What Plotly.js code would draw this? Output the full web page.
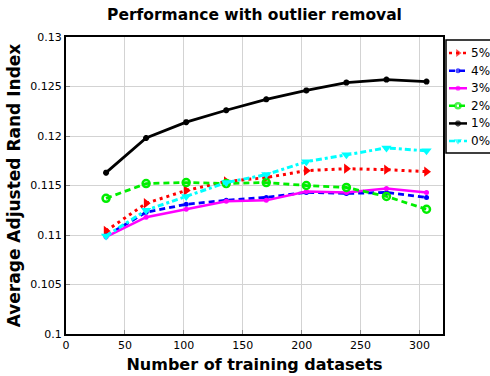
<!DOCTYPE html>
<html><head><meta charset="utf-8">
<script src="https://cdn.plot.ly/plotly-3.0.1.min.js"></script>
<style>html,body{margin:0;padding:0;background:#fff}#chart{width:490px;height:376px}</style>
</head><body><div id="chart"></div>
<script>
const trainingSets = [34, 68, 102, 136, 170, 204, 238, 272, 306];
const seriesNames = ["5%", "4%", "3%", "2%", "1%", "0%"];
const ari5 = [0.1104, 0.1132, 0.1145, 0.1154, 0.1158, 0.1165, 0.1167, 0.1166, 0.1164];
const ari4 = [0.1099, 0.1123, 0.1131, 0.1135, 0.1138, 0.1143, 0.1142, 0.1143, 0.1138];
const ari3 = [0.1098, 0.1118, 0.1126, 0.1134, 0.1135, 0.1144, 0.1143, 0.1147, 0.1143];
const ari2 = [0.1137, 0.1152, 0.1153, 0.1152, 0.1153, 0.1150, 0.1148, 0.1139, 0.1126];
const ari1 = [0.1163, 0.1198, 0.1214, 0.1226, 0.1237, 0.1246, 0.1254, 0.1257, 0.1255];
const ari0 = [0.1099, 0.1125, 0.1139, 0.1153, 0.1161, 0.1174, 0.1181, 0.1188, 0.1185];
const yTickVals = [0.1, 0.105, 0.11, 0.115, 0.12, 0.125, 0.13];
const yTickText = ["0.1", "0.105", "0.11", "0.115", "0.12", "0.125", "0.13"];
const xTickVals = [0, 50, 100, 150, 200, 250, 300];

const seriesValues = [ari5, ari4, ari3, ari2, ari1, ari0];
const styles = [
  {color: "#ff0000", dash: "3px,4px", symbol: "triangle-right", size: 9, mline: 0, lw: 3},
  {color: "#0000ff", dash: "6px,4px", symbol: "circle", size: 5, mline: 0, lw: 2.8},
  {color: "#ff00ff", dash: "solid", symbol: "circle", size: 5, mline: 0, lw: 2.5},
  {color: "#00ee00", dash: "6px,4px", symbol: "circle-open", size: 7, mline: 2.5, lw: 2.8},
  {color: "#000000", dash: "solid", symbol: "asterisk-open", size: 5, mline: 2, lw: 2.8},
  {color: "#00ffff", dash: "6px,3px,3px,3px", symbol: "triangle-down", size: 9, mline: 0, lw: 3}
];

const traces = [];
seriesValues.forEach((vals, i) => {
  const s = styles[i];
  traces.push({
    x: trainingSets, y: vals, type: "scatter", mode: "lines+markers",
    name: seriesNames[i], showlegend: false,
    line: {color: s.color, width: s.lw, dash: s.dash},
    marker: {color: s.color, symbol: s.symbol, size: s.size, line: {color: s.color, width: s.mline}},
    xaxis: "x", yaxis: "y"
  });
});
// custom legend drawn on a helper axis pair
const annotations = [];
seriesNames.forEach((nm, i) => {
  const s = styles[i];
  traces.push({
    x: [3, 12, 21], y: [i, i, i], type: "scatter", mode: "lines+markers",
    showlegend: false, hoverinfo: "skip", cliponaxis: false,
    line: {color: s.color, width: 2.5, dash: s.dash},
    marker: {color: s.color, symbol: s.symbol, size: [0, Math.max(s.size - 2, 5), 0], line: {color: s.color, width: s.mline}},
    xaxis: "x2", yaxis: "y2"
  });
  annotations.push({x: 23, y: i, xref: "x2", yref: "y2", text: nm, showarrow: false,
    xanchor: "left", yanchor: "middle", font: {family: "DejaVu Sans", size: 12, color: "#000"}});
});

const mainRight = 377 / 424;
const layout = {
  width: 490, height: 376,
  margin: {l: 66, r: 0, t: 37, b: 42},
  paper_bgcolor: "#fff", plot_bgcolor: "#fff",
  font: {family: "DejaVu Sans", size: 11, color: "#000"},
  title: {text: "<b>Performance with outlier removal</b>", x: 254.5 / 490, xref: "container", xanchor: "center",
    y: 1 - 15 / 376, yanchor: "middle", font: {family: "DejaVu Sans", size: 15.5, color: "#000"}},
  xaxis: {domain: [0, mainRight], range: [0, 320], tickvals: xTickVals, showgrid: true, gridcolor: "#d3d3d3", gridwidth: 1,
    zeroline: false, showline: true, linecolor: "#000", linewidth: 2, mirror: true,
    ticks: "inside", ticklen: 4, tickcolor: "#888",
    title: {text: "<b>Number of training datasets</b>", font: {family: "DejaVu Sans", size: 16, color: "#000"}, standoff: 8}},
  yaxis: {range: [0.1, 0.13], tickvals: yTickVals, ticktext: yTickText, showgrid: true, gridcolor: "#d3d3d3", gridwidth: 1,
    zeroline: false, showline: true, linecolor: "#000", linewidth: 2, mirror: true,
    ticks: "inside", ticklen: 4, tickcolor: "#888",
    title: {text: "<b>Average Adjusted Rand Index</b>", font: {family: "DejaVu Sans", size: 17, color: "#000"}, standoff: 5}},
  xaxis2: {domain: [(446 - 66) / 424, 1], range: [0, 44], visible: false, fixedrange: true, anchor: "y2"},
  yaxis2: {domain: [(334 - 153) / 297, (334 - 40) / 297], range: [5.68, -0.74], visible: false, fixedrange: true, anchor: "x2"},
  shapes: [{type: "rect", xref: "paper", yref: "paper", x0: (446 - 66) / 424, x1: 1.05,
    y0: (334 - 153) / 297, y1: (334 - 40) / 297, line: {color: "#000", width: 1.5}, fillcolor: "rgba(0,0,0,0)"}],
  annotations: annotations
};
Plotly.newPlot("chart", traces, layout, {displayModeBar: false, staticPlot: true});
</script></body></html>
